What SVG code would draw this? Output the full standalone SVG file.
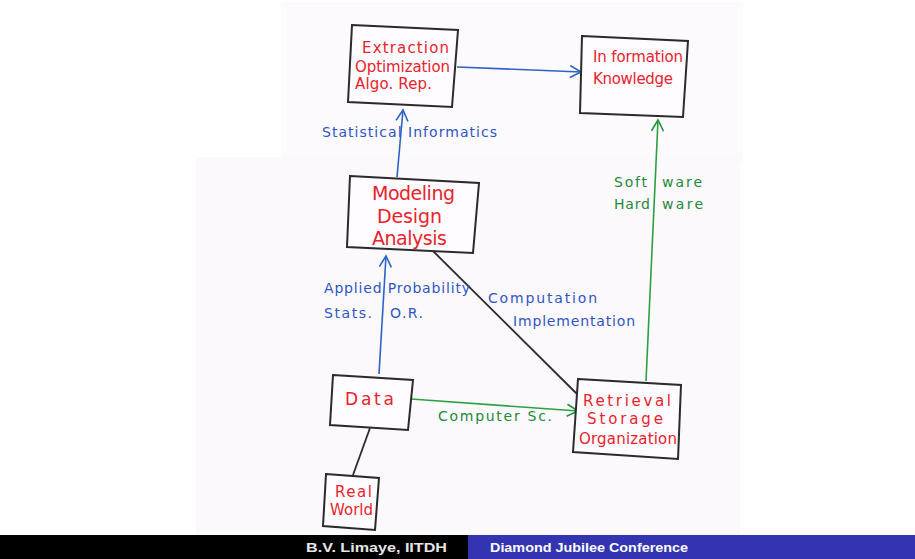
<svg xmlns="http://www.w3.org/2000/svg" width="915" height="559" viewBox="0 0 915 559">
<defs>
<marker id="arrB" markerUnits="userSpaceOnUse" markerWidth="16" markerHeight="16" refX="12" refY="7" orient="auto">
<path d="M1,1 L12,7 L1,13" fill="none" stroke="#2d63c8" stroke-width="1.6"/>
</marker>
<marker id="arrG" markerUnits="userSpaceOnUse" markerWidth="16" markerHeight="16" refX="12" refY="7" orient="auto">
<path d="M1,1 L12,7 L1,13" fill="none" stroke="#22943f" stroke-width="1.6"/>
</marker>
<style>
.box{fill:#fefcfe;stroke:#2b2b2b;stroke-width:2}
.red{fill:#e8232d;font-family:"DejaVu Sans","Liberation Sans",sans-serif}
.blu{fill:#2f56c4;font-family:"DejaVu Sans","Liberation Sans",sans-serif;font-size:14px}
.grn{fill:#238a3c;font-family:"DejaVu Sans","Liberation Sans",sans-serif;font-size:14px}
.lb{stroke:#2d63c8;stroke-width:1.6;fill:none}
.lg{stroke:#2ea043;stroke-width:1.6;fill:none}
.lk{stroke:#2b2b2b;stroke-width:1.8;fill:none}
.foot{font-family:"Liberation Sans",sans-serif;font-size:13px;font-weight:bold}
</style>
</defs>
<rect x="0" y="0" width="915" height="559" fill="#ffffff"/>
<!-- scanned paper -->
<rect x="281" y="2" width="462" height="160" fill="#fcfafc"/>
<rect x="196" y="157" width="544" height="378" fill="#fbf9fb"/>

<g id="connectors">
<line class="lb" x1="457" y1="67" x2="581" y2="72" marker-end="url(#arrB)"/>
<line class="lb" x1="397" y1="177" x2="403" y2="110" marker-end="url(#arrB)"/>
<line class="lb" x1="379" y1="374" x2="386" y2="256" marker-end="url(#arrB)"/>
<line class="lg" x1="646" y1="381" x2="658" y2="120" marker-end="url(#arrG)"/>
<line class="lg" x1="411" y1="399" x2="578" y2="411" marker-end="url(#arrG)"/>
<line class="lk" x1="433" y1="251" x2="577" y2="394"/>
<line class="lk" x1="370" y1="428" x2="353" y2="475"/>
<text class="blu" x="322" y="137" textLength="175" lengthAdjust="spacing">Statistical Informatics</text>
<text class="grn" x="614" y="187" textLength="33" lengthAdjust="spacing">Soft</text>
<text class="grn" x="662" y="187" textLength="40" lengthAdjust="spacing">ware</text>
<text class="grn" x="614" y="209" textLength="36" lengthAdjust="spacing">Hard</text>
<text class="grn" x="662" y="209" textLength="41" lengthAdjust="spacing">ware</text>
<text class="blu" x="324" y="293" textLength="146" lengthAdjust="spacing">Applied Probability</text>
<text class="blu" x="324" y="318" textLength="48" lengthAdjust="spacing">Stats.</text>
<text class="blu" x="390" y="318" textLength="33" lengthAdjust="spacing">O.R.</text>
<text class="blu" x="488" y="303" textLength="109" lengthAdjust="spacing">Computation</text>
<text class="blu" x="513" y="326" textLength="122" lengthAdjust="spacing">Implementation</text>
<text class="grn" x="438" y="421" textLength="114" lengthAdjust="spacing">Computer Sc.</text>
</g>

<g id="extraction">
<polygon class="box" points="352,25 458,30 452,107 348,102"/>
<text class="red" x="362" y="53" font-size="15" textLength="87" lengthAdjust="spacing">Extraction</text>
<text class="red" x="355" y="72" font-size="15" textLength="95" lengthAdjust="spacing">Optimization</text>
<text class="red" x="355" y="89" font-size="15" textLength="77" lengthAdjust="spacing">Algo. Rep.</text>
</g>

<g id="information">
<polygon class="box" points="582,36 688,41 683,117 580,113"/>
<text class="red" x="593" y="62" font-size="15" textLength="90" lengthAdjust="spacing">In formation</text>
<text class="red" x="593" y="84" font-size="15" textLength="80" lengthAdjust="spacing">Knowledge</text>
</g>

<g id="modeling">
<polygon class="box" points="350,176 479,183 473,253 347,247"/>
<text class="red" x="372" y="200" font-size="19" textLength="83" lengthAdjust="spacing">Modeling</text>
<text class="red" x="377" y="223" font-size="19" textLength="65" lengthAdjust="spacing">Design</text>
<text class="red" x="372" y="245" font-size="19" textLength="75" lengthAdjust="spacing">Analysis</text>
</g>

<g id="data">
<polygon class="box" points="333,375 413,380 408,430 330,425"/>
<text class="red" x="345" y="405" font-size="17" textLength="49" lengthAdjust="spacing">Data</text>
</g>

<g id="retrieval">
<polygon class="box" points="578,379 681,385 678,459 573,452"/>
<text class="red" x="583" y="406" font-size="15" textLength="88" lengthAdjust="spacing">Retrieval</text>
<text class="red" x="587" y="424" font-size="15" textLength="76" lengthAdjust="spacing">Storage</text>
<text class="red" x="579" y="444" font-size="15" textLength="98" lengthAdjust="spacing">Organization</text>
</g>

<g id="realworld">
<polygon class="box" points="326,474 379,478 375,530 323,526"/>
<text class="red" x="335" y="497" font-size="15" textLength="37" lengthAdjust="spacing">Real</text>
<text class="red" x="330" y="515" font-size="15" textLength="43" lengthAdjust="spacing">World</text>
</g>

<g id="footer">
<rect x="0" y="535" width="468" height="24" fill="#000000"/>
<rect x="468" y="535" width="447" height="24" fill="#3434b2"/>
<text class="foot" x="447" y="552" text-anchor="end" fill="#e6e6e6" textLength="141" lengthAdjust="spacingAndGlyphs">B.V. Limaye, IITDH</text>
<text class="foot" x="490" y="552" fill="#ffffff" textLength="198" lengthAdjust="spacingAndGlyphs">Diamond Jubilee Conference</text>
</g>
</svg>
